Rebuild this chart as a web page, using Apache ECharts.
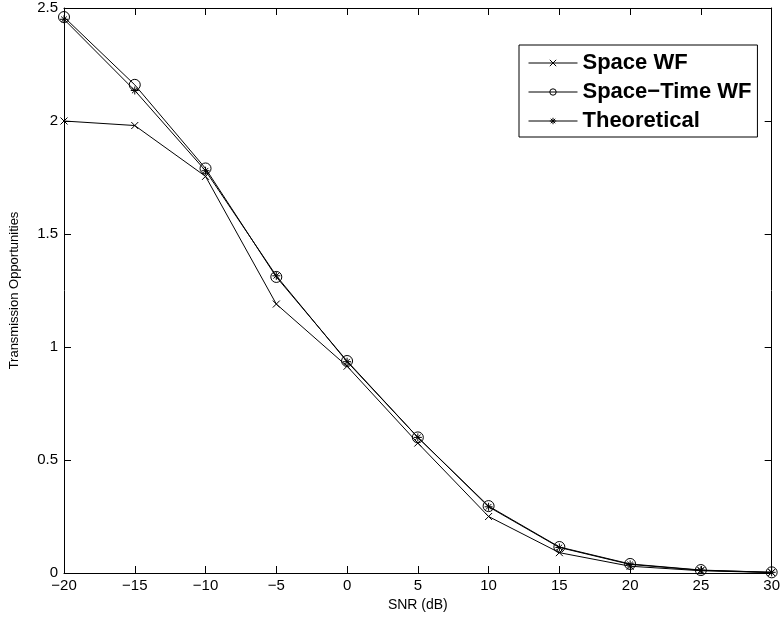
<!DOCTYPE html>
<html>
<head>
<meta charset="utf-8">
<script src="https://cdn.jsdelivr.net/npm/echarts@6/dist/echarts.min.js"></script>
<style>html,body{margin:0;padding:0;background:#fff;}#c{width:783px;height:619px;}</style>
</head>
<body>
<div id="c"></div>
<script>
const snr = [-20, -15, -10, -5, 0, 5, 10, 15, 20, 25, 30];
const spaceWF = [2.0, 1.98, 1.755, 1.19, 0.915, 0.575, 0.25, 0.09, 0.03, 0.01, 0.002];
const spaceTimeWF = [2.46, 2.16, 1.79, 1.31, 0.938, 0.60, 0.296, 0.115, 0.04, 0.013, 0.003];
const theoretical = [2.45, 2.135, 1.78, 1.315, 0.935, 0.60, 0.293, 0.113, 0.038, 0.012, 0.003];
const seriesNames = ['Space WF', 'Space\u2212Time WF', 'Theoretical'];
const xTicks = [-20, 30, 5];
const yTicks = [0, 2.5, 0.5];

const symX = 'path://M0,0L10,10M10,0L0,10';
const symStar = 'path://M5,0L5,10M0,5L10,5M1.5,1.5L8.5,8.5M8.5,1.5L1.5,8.5';
const font = 'Liberation Sans, Arial, Helvetica, sans-serif';

function mk(name, vals, symbol, size) {
  return {
    name: name, type: 'line',
    data: snr.map((x, i) => [x, vals[i]]),
    symbol: symbol, symbolSize: size, showAllSymbol: true,
    lineStyle: {color: '#000', width: 1},
    itemStyle: {color: 'none', borderColor: '#000', borderWidth: 1},
    emphasis: {disabled: true},
    animation: false, z: 3
  };
}

const chart = echarts.init(document.getElementById('c'), null, {renderer: 'canvas'});
const axCommon = {
  type: 'value',
  axisLine: {show: true, onZero: false, lineStyle: {color: '#000', width: 1}},
  axisTick: {show: true, inside: true, length: 7, lineStyle: {color: '#000'}},
  splitLine: {show: false},
  axisLabel: {color: '#000', fontSize: 15, fontFamily: font}
};
chart.setOption({
  backgroundColor: '#fff',
  animation: false,
  grid: {left: 59, right: 9, top: 8, bottom: 46, containLabel: false},
  xAxis: [
    Object.assign({}, axCommon, {min: xTicks[0], max: xTicks[1], interval: xTicks[2], position: 'bottom',
      name: 'SNR (dB)', nameLocation: 'middle', nameGap: 23,
      nameTextStyle: {color: '#000', fontSize: 14, fontFamily: font},
      axisLabel: {color: '#000', fontSize: 15, fontFamily: font, margin: 5,
        formatter: v => (v < 0 ? '\u2212' + Math.abs(v) : String(v))}}),
    Object.assign({}, axCommon, {min: xTicks[0], max: xTicks[1], interval: xTicks[2], position: 'top',
      axisLabel: {show: false}})
  ],
  yAxis: [
    Object.assign({}, axCommon, {min: yTicks[0], max: yTicks[1], interval: yTicks[2], position: 'left',
      name: 'Transmission Opportunities', nameLocation: 'middle', nameGap: 43,
      nameTextStyle: {color: '#000', fontSize: 13, fontFamily: font},
      axisLabel: {color: '#000', fontSize: 15, fontFamily: font, margin: 6}}),
    Object.assign({}, axCommon, {min: yTicks[0], max: yTicks[1], interval: yTicks[2], position: 'right',
      axisLabel: {show: false}})
  ],
  legend: {
    show: true, orient: 'vertical', left: 519, top: 45,
    backgroundColor: '#fff', borderColor: '#000', borderWidth: 1,
    padding: [7, 6, 5, 9],
    itemWidth: 49, itemHeight: 8, itemGap: 7,
    itemStyle: {color: 'none', borderColor: '#000', borderWidth: 1},
    lineStyle: {color: '#000', width: 1},
    textStyle: {color: '#000', fontSize: 22, fontWeight: 'bold', fontFamily: font},
    data: seriesNames,
    selectedMode: false
  },
  series: [
    mk(seriesNames[0], spaceWF, symX, 7),
    mk(seriesNames[1], spaceTimeWF, 'circle', 11),
    mk(seriesNames[2], theoretical, symStar, 8)
  ]
});
</script>
</body>
</html>
